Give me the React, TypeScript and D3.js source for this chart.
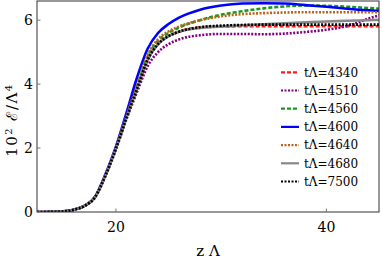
import React from "react";
import * as d3 from "d3";

// z Λ sample positions shared by every curve
const zGrid = [12.5, 14, 15, 16, 17, 18, 19, 20, 21, 22, 23, 24, 25, 26, 28, 30, 32, 34, 36, 38, 40, 42, 44, 45];

const e4340 = [0, 0.005, 0.02, 0.07, 0.19, 0.46, 1.14, 1.99, 2.95, 3.85, 4.75, 5.25, 5.5, 5.64, 5.78, 5.8, 5.81, 5.81, 5.81, 5.81, 5.81, 5.81, 5.81, 5.81];
const e4510 = [0, 0.005, 0.02, 0.07, 0.19, 0.45, 1.12, 1.95, 2.9, 3.75, 4.55, 5.0, 5.25, 5.4, 5.53, 5.57, 5.57, 5.56, 5.58, 5.63, 5.7, 5.82, 6.05, 6.15];
const e4560 = [0, 0.005, 0.02, 0.07, 0.19, 0.46, 1.15, 2.0, 2.98, 3.92, 4.85, 5.35, 5.6, 5.77, 6.0, 6.17, 6.28, 6.37, 6.43, 6.46, 6.45, 6.42, 6.38, 6.36];
const e4600 = [0, 0.005, 0.02, 0.07, 0.19, 0.47, 1.17, 2.04, 3.1, 4.2, 5.1, 5.6, 5.88, 6.08, 6.33, 6.46, 6.52, 6.53, 6.52, 6.47, 6.42, 6.36, 6.31, 6.29];
const e4640 = [0, 0.005, 0.02, 0.07, 0.19, 0.46, 1.15, 2.01, 3.0, 3.95, 4.9, 5.4, 5.65, 5.8, 6.0, 6.12, 6.19, 6.22, 6.24, 6.25, 6.25, 6.25, 6.25, 6.25];
const e4680 = [0, 0.005, 0.02, 0.07, 0.19, 0.46, 1.14, 1.99, 2.95, 3.85, 4.75, 5.25, 5.5, 5.64, 5.76, 5.8, 5.84, 5.87, 5.9, 5.93, 5.96, 5.98, 6.0, 6.01];
const e7500 = [0, 0.005, 0.02, 0.07, 0.19, 0.46, 1.14, 1.99, 2.95, 3.85, 4.75, 5.25, 5.5, 5.64, 5.78, 5.83, 5.85, 5.86, 5.86, 5.86, 5.86, 5.86, 5.86, 5.86];

const labels = ["tΛ=4340", "tΛ=4510", "tΛ=4560", "tΛ=4600", "tΛ=4640", "tΛ=4680", "tΛ=7500"];
const xTicks = [20, 40];
const yTicks = [0, 2, 4, 6];

const series = [
  { name: labels[0], values: e4340, color: "#ff1a1a", dash: "4,2" },
  { name: labels[1], values: e4510, color: "#800080", dash: "2,1.5" },
  { name: labels[2], values: e4560, color: "#1a9a1a", dash: "4,2" },
  { name: labels[3], values: e4600, color: "#0000ff", dash: "" },
  { name: labels[4], values: e4640, color: "#b8651b", dash: "2,1.5" },
  { name: labels[5], values: e4680, color: "#888888", dash: "" },
  { name: labels[6], values: e7500, color: "#000000", dash: "2,1.5" },
];

const W = 382;
const H = 262;
const m = { left: 37, right: 3, top: 1, bottom: 50 };
const serif = { fontFamily: "'DejaVu Serif', serif" };

export default function App() {
  const x = d3.scaleLinear().domain([12.5, 45]).range([m.left, W - m.right]);
  const y = d3.scaleLinear().domain([0, 6.6]).range([H - m.bottom, m.top]);
  const line = d3
    .line<number>()
    .x((_, i) => x(zGrid[i]))
    .y((d) => y(d))
    .curve(d3.curveMonotoneX);

  const x0 = m.left;
  const x1 = W - m.right;
  const y0 = H - m.bottom;
  const y1 = m.top;

  return (
    <svg
      width={W}
      height={H}
      style={{ position: "absolute", left: 0, top: 0, background: "#fff" }}
    >
      <defs>
        <clipPath id="plot">
          <rect x={x0} y={y1} width={x1 - x0} height={y0 - y1} />
        </clipPath>
      </defs>

      <g clipPath="url(#plot)">
        {series.map((s) => (
          <path
            key={s.name}
            d={line(s.values) || ""}
            fill="none"
            stroke={s.color}
            strokeWidth={2.6}
            strokeDasharray={s.dash}
          />
        ))}
      </g>

      {/* frame */}
      <rect x={x0} y={y1} width={x1 - x0} height={y0 - y1} fill="none" stroke="#333" strokeWidth={1} />

      {xTicks.map((t) => (
        <g key={"x" + t}>
          <line x1={x(t)} x2={x(t)} y1={y0} y2={y0 - 3.5} stroke="#777" />
          <text x={x(t)} y={y0 + 19.5} textAnchor="middle" fontSize={14} style={serif}>
            {t}
          </text>
        </g>
      ))}
      {yTicks.map((t) => (
        <g key={"y" + t}>
          <line x1={x0} x2={x0 + 3.5} y1={y(t)} y2={y(t)} stroke="#777" />
          <text x={x0 - 4} y={y(t)} dy="0.36em" textAnchor="end" fontSize={14} style={serif}>
            {t}
          </text>
        </g>
      ))}

      <text x={208} y={256} textAnchor="middle" fontSize={15} style={serif}>
        z Λ
      </text>
      <text
        transform="translate(17,120) rotate(-90)"
        textAnchor="middle"
        fontSize={15}
        letterSpacing={1.5}
        style={serif}
      >
        10<tspan dy={-5.5} fontSize={10}>2</tspan>
        <tspan dy={5.5}> ℰ/Λ</tspan>
        <tspan dy={-5.5} fontSize={10}>4</tspan>
      </text>

      {series.map((s, i) => {
        const ly = 72.3 + i * 18.2;
        return (
          <g key={"lg" + s.name}>
            <line x1={281} x2={299} y1={ly} y2={ly} stroke={s.color} strokeWidth={2.2} strokeDasharray={s.dash} />
            <text x={304} y={ly} dy="0.36em" fontSize={12} style={serif}>
              {s.name}
            </text>
          </g>
        );
      })}
    </svg>
  );
}
